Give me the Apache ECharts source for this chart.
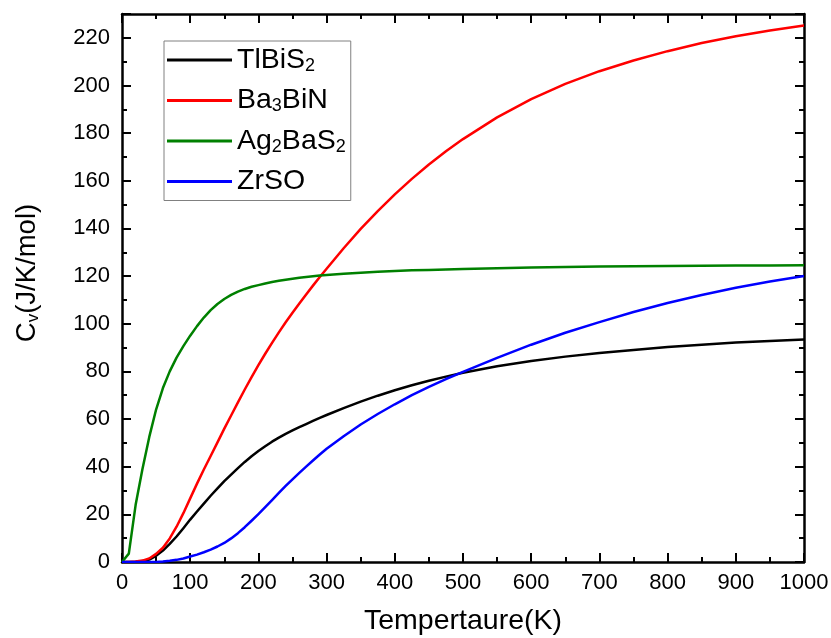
<!DOCTYPE html>
<html>
<head>
<meta charset="utf-8">
<title>Cv vs temperature</title>
<script src="https://cdn.jsdelivr.net/npm/echarts@6/dist/echarts.min.js"></script>
<style>
  html, body { margin: 0; padding: 0; background: #fff; }
  #chart { width: 831px; height: 638px; }
</style>
</head>
<body>
<div id="chart"></div>
<script>
// temperature grid (K)
var temps = [0, 10, 20, 30, 40, 50, 60, 70, 80, 90, 100, 110, 120, 130, 140, 150, 160, 170, 180, 190,
  200, 210, 220, 230, 240, 250, 260, 270, 280, 290, 300,
  325, 350, 375, 400, 425, 450, 475, 500,
  550, 600, 650, 700, 750, 800, 850, 900, 950, 1000]

// Cv (J/K/mol)
var tlbis2 = [0, 0, 0.1, 0.4, 1.0, 2.6, 4.8, 7.6, 10.7, 14.2, 17.8, 21.2, 24.5, 27.8, 30.9, 33.9, 36.7, 39.4, 42.0, 44.4,
  46.6, 48.6, 50.5, 52.2, 53.8, 55.2, 56.6, 57.9, 59.2, 60.5, 61.7,
  64.6, 67.3, 69.8, 72.1, 74.2, 76.1, 77.8, 79.4,
  82.2, 84.4, 86.2, 87.7, 89.0, 90.2, 91.2, 92.1, 92.8, 93.4]
var ba3bin = [0, 0, 0.2, 0.6, 1.5, 3.4, 6.0, 9.9, 14.8, 20.5, 26.7, 32.9, 38.8, 44.5, 50.2, 56.0, 61.5, 67.0, 72.4, 77.6,
  82.6, 87.4, 92.0, 96.4, 100.6, 104.6, 108.5, 112.3, 116.0, 119.6, 123.1,
  131.7, 139.8, 147.3, 154.3, 160.8, 166.8, 172.4, 177.5,
  186.6, 194.3, 200.7, 206.0, 210.5, 214.4, 217.8, 220.7, 223.1, 225.2]
var ag2bas2 = [0, 3.5, 24.0, 39.0, 52.5, 64.0, 73.0, 80.0, 85.8, 90.6, 95.0, 99.0, 102.6, 105.7, 108.3, 110.4, 112.1, 113.5, 114.6, 115.5,
  116.2, 116.9, 117.5, 118.0, 118.5, 118.9, 119.3, 119.6, 119.9, 120.2, 120.5,
  121.0, 121.4, 121.8, 122.1, 122.4, 122.6, 122.8, 123.0,
  123.3, 123.6, 123.8, 124.0, 124.1, 124.2, 124.3, 124.4, 124.45, 124.5]
var zrso = [0, 0, 0, 0, 0, 0, 0.2, 0.5, 0.9, 1.5, 2.3, 3.1, 4.1, 5.2, 6.5, 8.0, 9.9, 12.1, 14.6, 17.3,
  20.1, 23.0, 26.0, 29.0, 31.9, 34.7, 37.4, 40.0, 42.6, 45.1, 47.5,
  52.8, 57.7, 62.1, 66.2, 70.0, 73.5, 76.8, 79.8,
  85.7, 91.2, 96.2, 100.7, 104.9, 108.7, 112.1, 115.1, 117.7, 120.0]

var seriesNames = ['TlBiS2', 'Ba3BiN', 'Ag2BaS2', 'ZrSO']
var legendLabels = {
  'TlBiS2': 'TlBiS{sub|2}',
  'Ba3BiN': 'Ba{sub|3}BiN',
  'Ag2BaS2': 'Ag{sub|2}BaS{sub|2}',
  'ZrSO': 'ZrSO'
}
var colors = ['#000000', '#ff0000', '#008000', '#0000ff']
var xTicks = { min: 0, max: 1000, interval: 100 }
var yTicks = { min: 0, max: 230, interval: 20 }

var font = 'Arial, "Liberation Sans", sans-serif'

function pairs(ys) {
  return temps.map(function (t, i) { return [t, ys[i]] })
}

function frameAxis(extra) {
  var base = {
    type: 'value',
    axisLine: { show: true, onZero: false, lineStyle: { color: '#000', width: 2.5 } },
    axisTick: { show: true, inside: true, length: 9, lineStyle: { color: '#000', width: 2 } },
    minorTick: { show: true, splitNumber: 2, length: 5, lineStyle: { color: '#000', width: 2 } },
    splitLine: { show: false },
    axisLabel: { show: false }
  }
  return Object.assign(base, extra)
}

var chart = echarts.init(document.getElementById('chart'), null, { renderer: 'canvas' })

var data = [tlbis2, ba3bin, ag2bas2, zrso]

chart.setOption({
  animation: false,
  backgroundColor: '#fff',
  grid: { left: 122, right: 27, top: 14, bottom: 76, outerBoundsMode: 'none', containLabel: false },
  legend: {
    data: seriesNames,
    orient: 'vertical',
    left: 164,
    top: 41,
    padding: [4, 5, 4, 3],
    itemGap: 10.5,
    itemWidth: 65,
    itemHeight: 3,
    itemTextGap: 6,
    icon: 'rect',
    borderColor: '#808080',
    borderWidth: 1,
    formatter: function (name) { return legendLabels[name] },
    textStyle: {
      fontFamily: font,
      fontSize: 28.5,
      color: '#000',
      lineHeight: 30,
      rich: {
        sub: { fontFamily: font, fontSize: 18, color: '#000', verticalAlign: 'bottom', lineHeight: 6 }
      }
    }
  },
  xAxis: [
    frameAxis({
      min: xTicks.min,
      max: xTicks.max,
      interval: xTicks.interval,
      position: 'bottom',
      name: 'Tempertaure(K)',
      nameLocation: 'middle',
      nameGap: 45,
      nameTextStyle: { fontFamily: font, fontSize: 28.5, color: '#000' },
      axisLabel: {
        show: true,
        margin: 10,
        fontFamily: font,
        fontSize: 22,
        color: '#000',
        formatter: function (v) { return String(v) }
      }
    }),
    frameAxis({
      min: xTicks.min,
      max: xTicks.max,
      interval: xTicks.interval,
      position: 'top'
    })
  ],
  yAxis: [
    frameAxis({
      min: yTicks.min,
      max: yTicks.max,
      interval: yTicks.interval,
      position: 'left',
      name: 'C{sub|v}(J/K/mol)',
      nameLocation: 'middle',
      nameGap: 80,
      nameRotate: 90,
      nameTextStyle: {
        fontFamily: font,
        fontSize: 27.5,
        color: '#000',
        lineHeight: 30,
        padding: [0, 0, 0, 30],
        rich: {
          sub: { fontFamily: font, fontSize: 17, color: '#000', verticalAlign: 'bottom', lineHeight: 6 }
        }
      },
      axisLabel: {
        show: true,
        margin: 12,
        fontFamily: font,
        fontSize: 22,
        color: '#000',
        formatter: function (v) { return v > 220 ? '' : String(v) }
      }
    }),
    frameAxis({
      min: yTicks.min,
      max: yTicks.max,
      interval: yTicks.interval,
      position: 'right'
    })
  ],
  series: seriesNames.map(function (name, i) {
    return {
      name: name,
      type: 'line',
      data: pairs(data[i]),
      showSymbol: false,
      smooth: false,
      color: colors[i],
      lineStyle: { color: colors[i], width: 2.5, join: 'round' },
      z: 3
    }
  })
})
</script>
</body>
</html>
